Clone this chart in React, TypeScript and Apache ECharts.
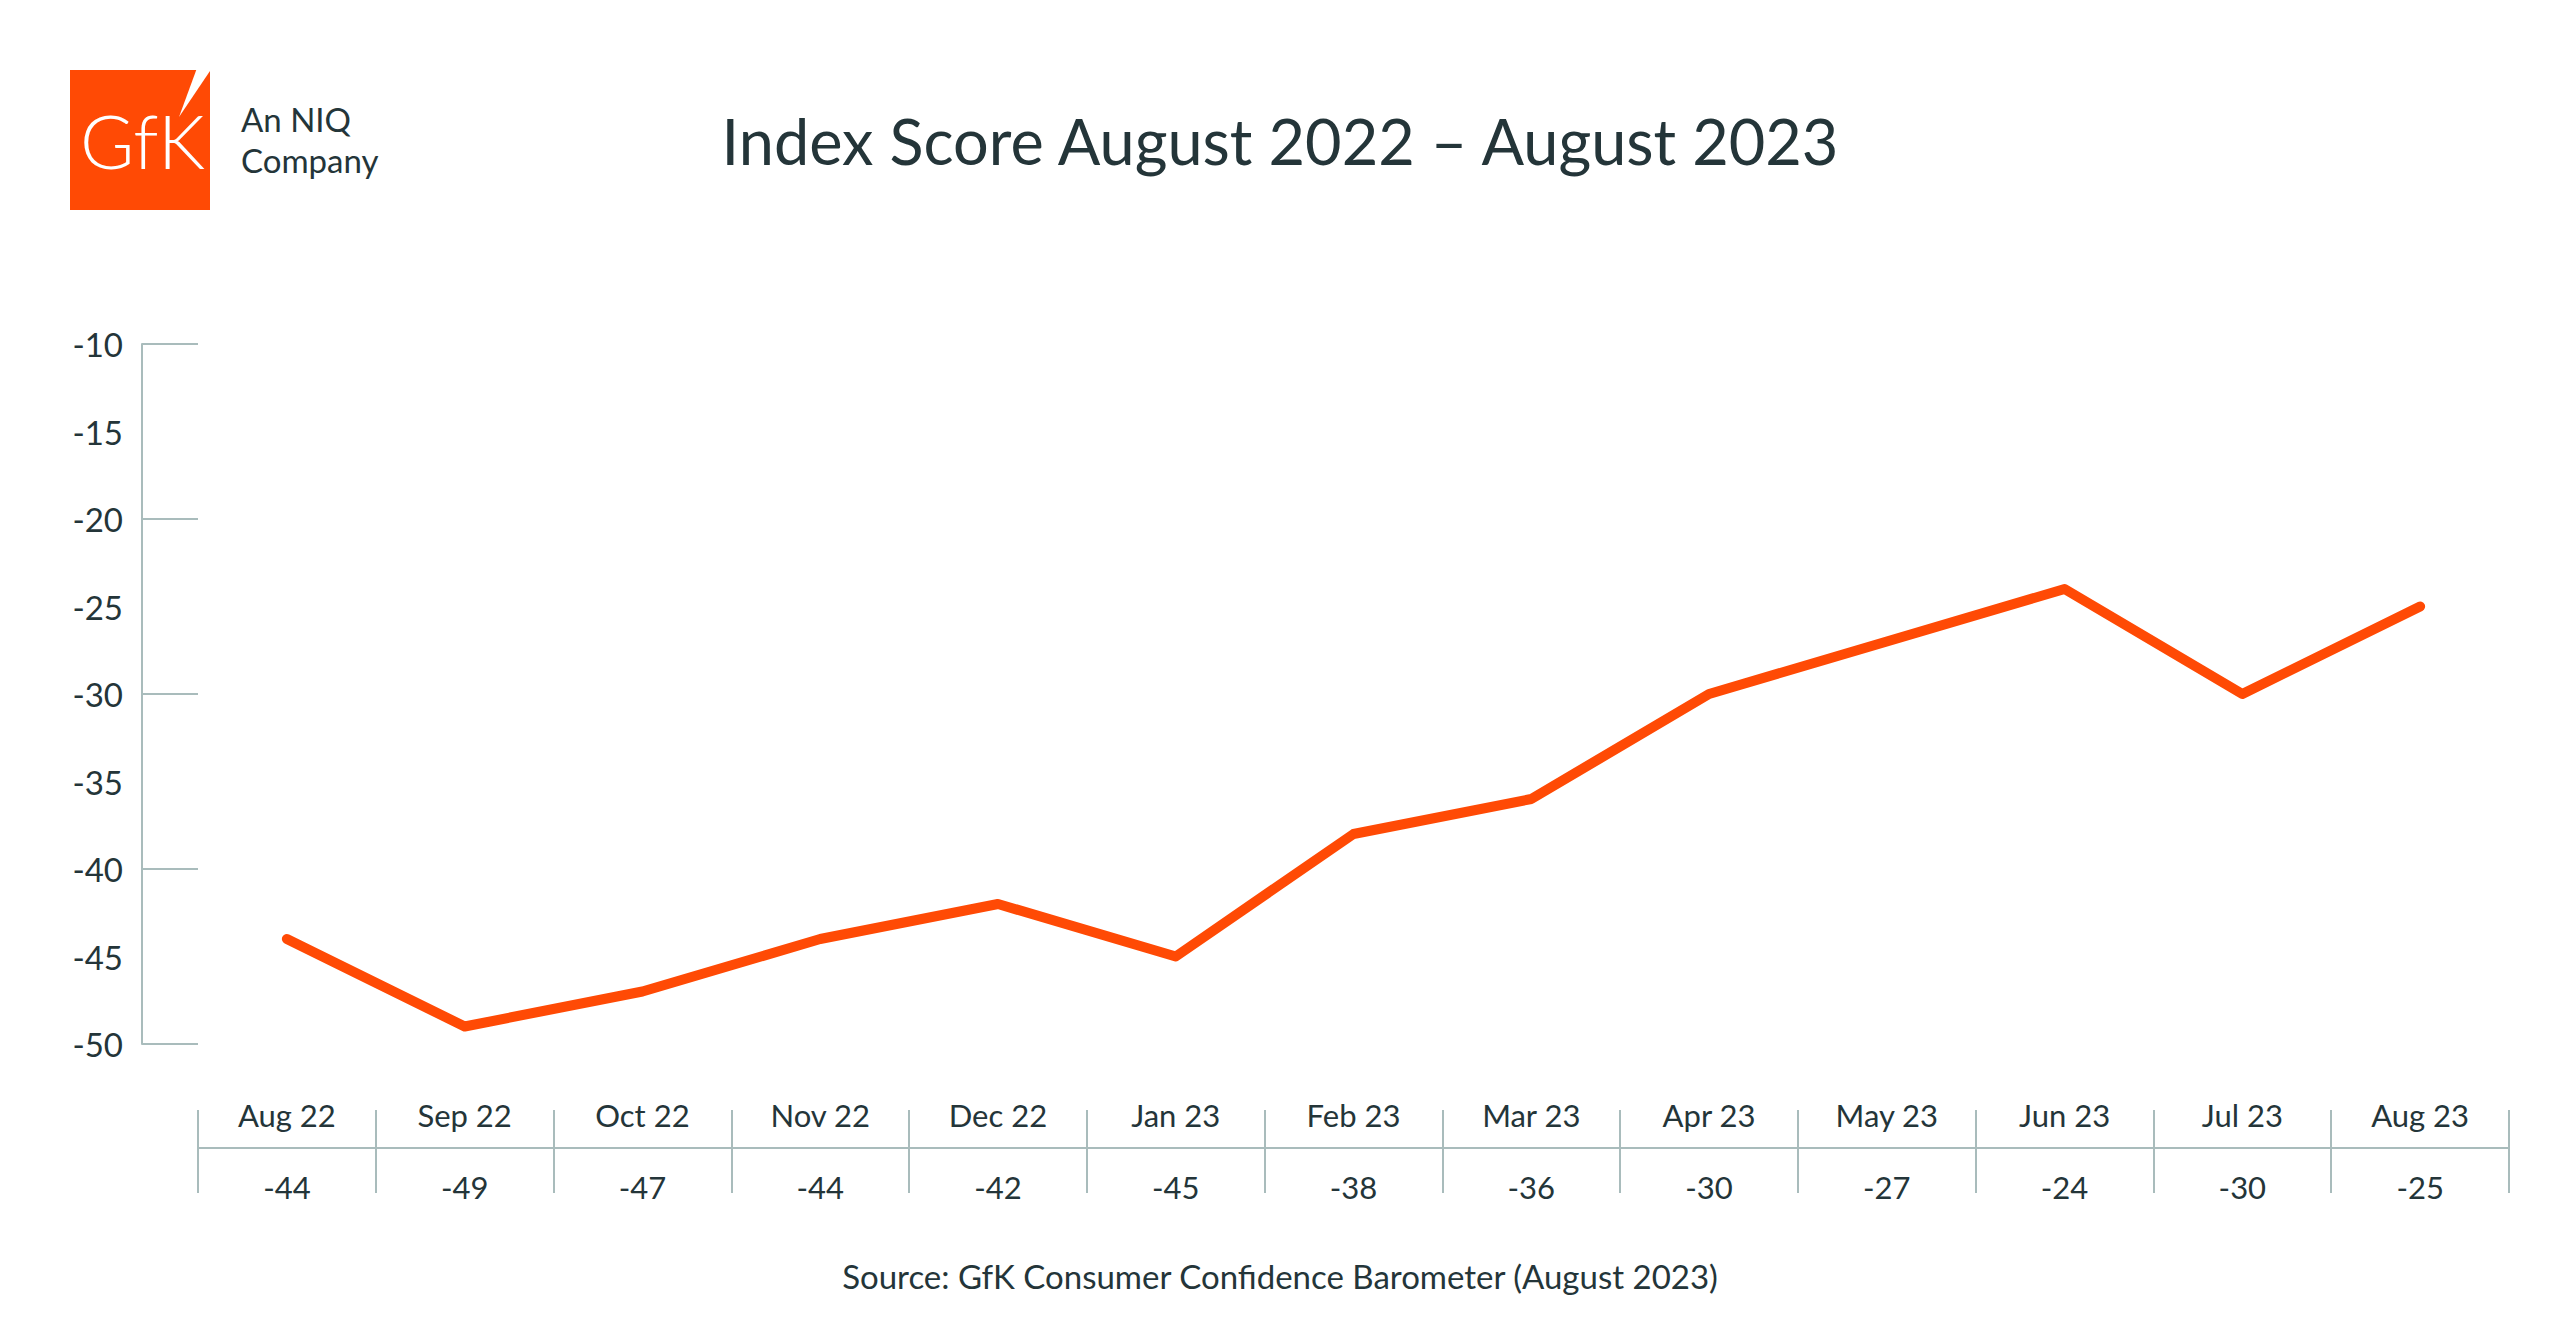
import React, { useEffect, useRef } from "react";
import * as echarts from "echarts";

const categories = ["Aug 22", "Sep 22", "Oct 22", "Nov 22", "Dec 22", "Jan 23", "Feb 23", "Mar 23", "Apr 23", "May 23", "Jun 23", "Jul 23", "Aug 23"];
const scores = [-44, -49, -47, -44, -42, -45, -38, -36, -30, -27, -24, -30, -25];
const yMin = -50;
const yMax = -10;
const titleText = "Index Score August 2022 \u2013 August 2023";
const sourceText = "Source: GfK Consumer Confidence Barometer (August 2023)";

const ORANGE = "#FF4A05";
const TEXT = "#243539";
const AXIS = "#A9BCBC";
const FONT = "Lato, 'Noto Sans', sans-serif";

export default function App() {
  const ref = useRef<HTMLDivElement>(null);
  useEffect(() => {
    if (!ref.current) return;
    const chart = echarts.init(ref.current, undefined, { renderer: "svg" });
    chart.setOption({
      animation: false,
      backgroundColor: "#ffffff",
      textStyle: { fontFamily: FONT },
      title: [
        {
          text: titleText,
          left: "center",
          top: 109,
          padding: 0,
          textStyle: { fontFamily: FONT, fontSize: 63, fontWeight: 400, color: TEXT, lineHeight: 63 },
        },
        {
          text: sourceText,
          left: "center",
          top: 1259,
          padding: 0,
          textStyle: { fontFamily: FONT, fontSize: 33, fontWeight: 400, color: TEXT, lineHeight: 33 },
        },
      ],
      graphic: [
        { type: "rect", shape: { x: 70, y: 70, width: 140, height: 140 }, style: { fill: ORANGE } },
        { type: "polygon", shape: { points: [[197, 68], [212, 68], [179, 117]] }, style: { fill: "#ffffff" } },
        {
          type: "text",
          x: 80,
          y: 140,
          style: { text: "GfK", fill: "#ffffff", fontFamily: FONT, fontSize: 74, fontWeight: 300, verticalAlign: "middle", align: "left" },
        },
        {
          type: "text",
          x: 241,
          y: 119,
          style: { text: "An NIQ", fill: TEXT, fontFamily: FONT, fontSize: 33, verticalAlign: "middle", align: "left" },
        },
        {
          type: "text",
          x: 241,
          y: 160,
          style: { text: "Company", fill: TEXT, fontFamily: FONT, fontSize: 33, verticalAlign: "middle", align: "left" },
        },
      ],
      grid: [
        { left: 198, top: 344, width: 2311, height: 700, containLabel: false },
        { left: 198, top: 1110, width: 2311, height: 83, containLabel: false },
      ],
      xAxis: [
        { type: "category", gridIndex: 0, data: categories, boundaryGap: true, show: false },
        {
          type: "category",
          gridIndex: 1,
          position: "top",
          data: categories,
          boundaryGap: true,
          axisLine: { show: false },
          axisTick: { show: false },
          splitLine: { show: true, interval: 0, lineStyle: { color: AXIS, width: 2 } },
          axisLabel: { inside: true, interval: 0, margin: 5, verticalAlign: "middle", fontFamily: FONT, fontSize: 31, color: TEXT },
        },
        {
          type: "category",
          gridIndex: 1,
          position: "bottom",
          offset: -45,
          data: scores.map((v) => String(v)),
          boundaryGap: true,
          axisLine: { show: true, lineStyle: { color: AXIS, width: 2 } },
          axisTick: { show: false },
          splitLine: { show: false },
          axisLabel: { interval: 0, margin: 39, verticalAlign: "middle", fontFamily: FONT, fontSize: 31, color: TEXT },
        },
      ],
      yAxis: [
        {
          type: "value",
          gridIndex: 0,
          min: yMin,
          max: yMax,
          interval: 5,
          offset: 56,
          axisLine: { show: true, lineStyle: { color: AXIS, width: 2 } },
          axisTick: { show: false },
          splitLine: { show: false },
          axisLabel: { margin: 19, fontFamily: FONT, fontSize: 33, color: TEXT },
        },
        {
          type: "value",
          gridIndex: 0,
          position: "left",
          min: yMin,
          max: yMax,
          interval: 10,
          offset: 56,
          axisLine: { show: false },
          axisTick: { show: true, inside: true, length: 56, lineStyle: { color: AXIS, width: 2 } },
          splitLine: { show: false },
          axisLabel: { show: false },
        },
        { type: "value", gridIndex: 1, show: false, min: 0, max: 1 },
      ],
      series: [
        {
          type: "line",
          xAxisIndex: 0,
          yAxisIndex: 0,
          data: scores,
          symbol: "none",
          lineStyle: { color: ORANGE, width: 10, cap: "round", join: "round" },
        },
      ],
    });
    return () => chart.dispose();
  }, []);
  return <div ref={ref} style={{ position: "fixed", left: 0, top: 0, width: 2560, height: 1327 }} />;
}
